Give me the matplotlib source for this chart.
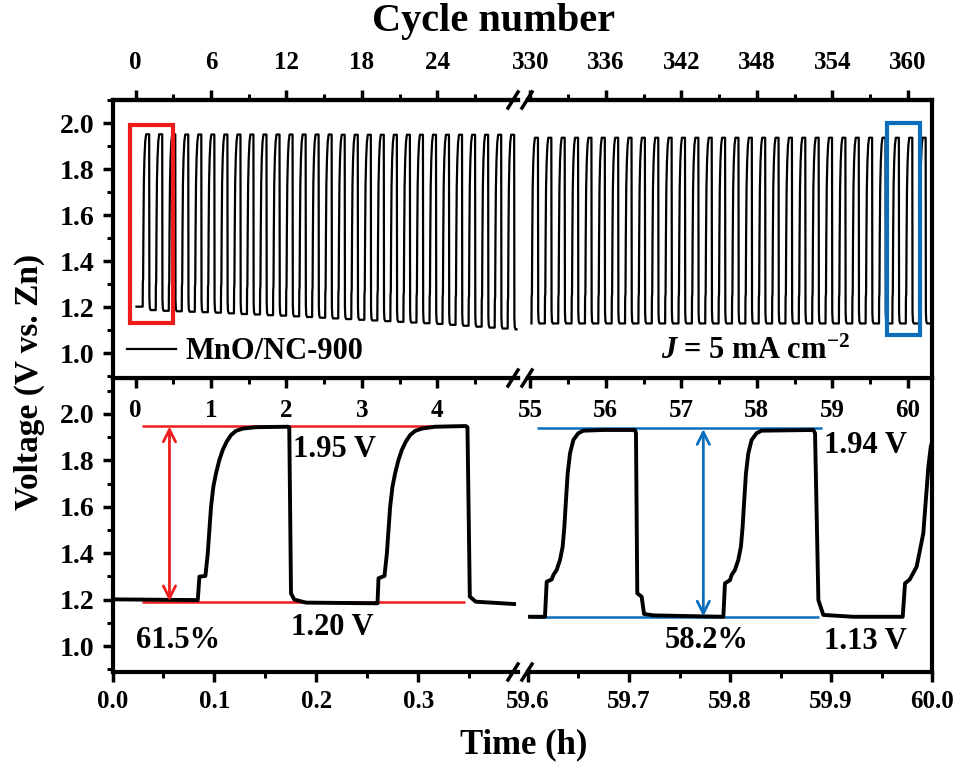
import matplotlib
matplotlib.use("Agg")
import matplotlib.pyplot as plt
from matplotlib.patches import Rectangle
from matplotlib.lines import Line2D
from matplotlib.ticker import MultipleLocator, FixedLocator, FormatStrFormatter

plt.rcParams['font.family'] = ['Liberation Serif', 'DejaVu Serif']
plt.rcParams['font.weight'] = 'bold'
plt.rcParams['mathtext.fontset'] = 'custom'
plt.rcParams['mathtext.rm'] = 'Liberation Serif:bold'
plt.rcParams['mathtext.it'] = 'Liberation Serif:italic:bold'
plt.rcParams['mathtext.bf'] = 'Liberation Serif:bold'

# ---------------- DATA ----------------
# Bottom-left: first 0.4 h (time in h, voltage in V)
bl_time = [0.0003, 0.0837, 0.0853, 0.0912, 0.0918, 0.0935, 0.0951, 0.0967, 0.0990, 0.1016,
           0.1049, 0.1082, 0.1121, 0.1163, 0.1212, 0.1278, 0.1409, 0.1719, 0.1735, 0.1752,
           0.1784, 0.1899, 0.2601, 0.2611, 0.2670, 0.2676, 0.2693, 0.2709, 0.2725, 0.2748,
           0.2774, 0.2807, 0.2840, 0.2879, 0.2921, 0.2970, 0.3036, 0.3167, 0.3467, 0.3484,
           0.3507, 0.3565, 0.3941]
bl_volt = [1.201, 1.198, 1.299, 1.302, 1.328, 1.399, 1.500, 1.600, 1.687, 1.744,
           1.802, 1.845, 1.881, 1.909, 1.927, 1.937, 1.943, 1.945, 1.943, 1.227,
           1.200, 1.187, 1.184, 1.292, 1.302, 1.328, 1.399, 1.500, 1.600, 1.687,
           1.744, 1.802, 1.845, 1.881, 1.909, 1.927, 1.937, 1.945, 1.948, 1.943,
           1.213, 1.191, 1.181]

# Bottom-right: last 0.4 h
br_time = [59.6020, 59.6168, 59.6185, 59.6235, 59.6251, 59.6284, 59.6317, 59.6343, 59.6360, 59.6376,
           59.6393, 59.6416, 59.6449, 59.6498, 59.6548, 59.6746, 59.7059, 59.7069, 59.7082, 59.7125,
           59.7149, 59.7241, 59.7934, 59.7950, 59.8000, 59.8016, 59.8049, 59.8082, 59.8108, 59.8125,
           59.8141, 59.8158, 59.8181, 59.8214, 59.8263, 59.8313, 59.8825, 59.8842, 59.8875, 59.8924,
           59.9221, 59.9710, 59.9733, 59.9780, 59.9848, 59.9914, 59.9964, 59.9988, 60.0013]
br_volt = [1.126, 1.126, 1.277, 1.287, 1.306, 1.328, 1.371, 1.428, 1.514, 1.629,
           1.744, 1.830, 1.888, 1.917, 1.928, 1.931, 1.931, 1.917, 1.227, 1.213,
           1.138, 1.132, 1.126, 1.270, 1.284, 1.306, 1.328, 1.371, 1.428, 1.514,
           1.629, 1.744, 1.830, 1.888, 1.917, 1.928, 1.931, 1.917, 1.198, 1.134,
           1.126, 1.126, 1.270, 1.287, 1.342, 1.486, 1.773, 1.859, 1.900]

# Top-left: cycles 0-30 (time of charge start, h; plateau voltages)
tl_rise_h = [0.095, 0.268, 0.441, 0.613, 0.786, 0.959, 1.132, 1.305, 1.477, 1.650,
             1.823, 1.996, 2.169, 2.341, 2.514, 2.687, 2.860, 3.033, 3.205, 3.378,
             3.551, 3.724, 3.897, 4.069, 4.242, 4.415, 4.588, 4.761, 4.933]
tl_low_V = [1.203, 1.188, 1.185, 1.183, 1.181, 1.179, 1.177, 1.174, 1.171, 1.169,
            1.166, 1.164, 1.161, 1.158, 1.155, 1.152, 1.149, 1.146, 1.143, 1.140,
            1.137, 1.134, 1.131, 1.128, 1.124, 1.120, 1.116, 1.112, 1.108, 1.104]
tl_high_V = [1.952, 1.952, 1.952, 1.951, 1.951, 1.951, 1.951, 1.951, 1.951, 1.951,
             1.951, 1.951, 1.951, 1.951, 1.951, 1.950, 1.950, 1.950, 1.950, 1.950,
             1.950, 1.950, 1.950, 1.950, 1.950, 1.950, 1.950, 1.950, 1.950]

# Top-right: cycles 330-362
tr_rise_h = [55.016, 55.193, 55.370, 55.547, 55.724, 55.901, 56.078, 56.255, 56.432, 56.609,
             56.786, 56.963, 57.140, 57.317, 57.494, 57.671, 57.848, 58.025, 58.202, 58.379,
             58.556, 58.733, 58.910, 59.087, 59.264, 59.441, 59.618, 59.795, 59.973, 60.150]
tr_low_V = [1.130] * 31
tr_high_V = [1.937] * 30

# tick labels
hour_ticks_left = [0, 1, 2, 3, 4]
hour_ticks_right = [55, 56, 57, 58, 59, 60]
cycle_ticks_left = [0, 6, 12, 18, 24]
cycle_ticks_right = [330, 336, 342, 348, 354, 360]
time_ticks_left = [0.0, 0.1, 0.2, 0.3]
time_ticks_right = [59.6, 59.7, 59.8, 59.9, 60.0]
volt_ticks = [1.0, 1.2, 1.4, 1.6, 1.8, 2.0]


def cycle_trace(rises, lows, highs, t_start, t_end):
    t = [t_start]
    v = [lows[0]]
    for k, r in enumerate(rises):
        lo, hi, nxt = lows[k], highs[k], lows[k + 1]
        s = hi - lo
        t += [r, r + 0.002, r + 0.006, r + 0.010, r + 0.016, r + 0.024, r + 0.034,
              r + 0.046, r + 0.086, r + 0.089, r + 0.094, r + 0.105]
        v += [lo, lo + 0.14 * s, lo + 0.16 * s, lo + 0.45 * s, lo + 0.73 * s, lo + 0.87 * s,
              lo + 0.96 * s, hi, hi, nxt + 0.05, nxt + 0.01, nxt]
    t.append(t_end)
    v.append(lows[-1])
    return t, v


# ---------------- FIGURE ----------------
W, H = 960, 762
fig = plt.figure(figsize=(W / 100, H / 100), dpi=100)


def ax_px(x0, y0, x1, y1, z):
    a = fig.add_axes([x0 / W, 1 - y1 / H, (x1 - x0) / W, (y1 - y0) / H])
    a.set_zorder(z)
    return a


XL0, XL1, XR0, XR1 = 112.5, 518, 528, 932
ax_tl = ax_px(XL0, 100, XL1, 378, 3)
ax_tr = ax_px(XR0, 100, XR1, 378, 3)
ax_bl = ax_px(XL0, 378, XL1, 672, 1)
ax_br = ax_px(XR0, 378, XR1, 672, 1)
for a in (ax_bl, ax_br):
    a.patch.set_alpha(0)

RED = '#ee1c1c'
BLUE = '#0a6ebd'
TICK_FS = 18
YTICK_FS = 20
ANN_FS = 22
SPINE_LW = 3.0

for a in (ax_tl, ax_tr, ax_bl, ax_br):
    for s in a.spines.values():
        s.set_linewidth(SPINE_LW)
    a.tick_params(which='major', length=7, width=2.5, labelsize=TICK_FS, direction='out')
    a.tick_params(which='minor', length=4, width=2.2, direction='out')
for a in (ax_tl, ax_bl):
    a.spines['right'].set_visible(False)
for a in (ax_tr, ax_br):
    a.spines['left'].set_visible(False)
    a.tick_params(axis='y', which='both', left=False, labelleft=False)

# top panels
ax_tl.set_xlim(-0.305, 5.07)
ax_tr.set_xlim(54.97, 60.32)
for a in (ax_tl, ax_tr):
    a.set_ylim(0.893, 2.101)
ax_bl.set_xlim(0.0, 0.398)
ax_br.set_xlim(59.6, 60.0)
for a in (ax_bl, ax_br):
    a.set_ylim(0.888, 2.155)

for a in (ax_tl, ax_bl):
    a.set_yticks(volt_ticks)
    a.yaxis.set_minor_locator(MultipleLocator(0.1))
    a.yaxis.set_major_formatter(FormatStrFormatter('%.1f'))
    a.tick_params(axis='y', which='major', pad=6, labelsize=YTICK_FS)

# top panels: hour ticks at bottom (labels fall inside lower panel)
ax_tl.set_xticks(hour_ticks_left)
ax_tl.xaxis.set_minor_locator(FixedLocator([0.5, 1.5, 2.5, 3.5, 4.5]))
ax_tr.set_xticks(hour_ticks_right)
ax_tr.xaxis.set_minor_locator(FixedLocator([55.5, 56.5, 57.5, 58.5, 59.5]))
for a in (ax_tl, ax_tr):
    a.tick_params(axis='x', which='major', pad=8)

# cycle number axis on top
for a, ct, cm in ((ax_tl, cycle_ticks_left, [3, 9, 15, 21, 27]),
                  (ax_tr, cycle_ticks_right, [333, 339, 345, 351, 357])):
    sec = a.secondary_xaxis('top', functions=(lambda t: 6 * t, lambda c: c / 6))
    sec.set_xticks(ct)
    sec.xaxis.set_minor_locator(FixedLocator(cm))
    sec.spines['top'].set_linewidth(SPINE_LW)
    sec.tick_params(which='major', length=7, width=2.5, labelsize=TICK_FS, direction='out', pad=12)
    sec.tick_params(which='minor', length=4, width=2.2, direction='out')

# bottom panels: time axis
ax_bl.set_xticks(time_ticks_left)
ax_bl.xaxis.set_minor_locator(FixedLocator([0.05, 0.15, 0.25, 0.35]))
ax_br.set_xticks(time_ticks_right)
ax_br.xaxis.set_minor_locator(FixedLocator([59.65, 59.75, 59.85, 59.95]))
for a in (ax_bl, ax_br):
    a.xaxis.set_major_formatter(FormatStrFormatter('%.1f'))
    a.tick_params(axis='x', which='major', pad=6)

# ---------------- TRACES ----------------
t1, v1 = cycle_trace(tl_rise_h, tl_low_V, tl_high_V, 0.013, 5.05)
line_tl, = ax_tl.plot(t1, v1, color='black', lw=1.6, label='MnO/NC-900')
t2, v2 = cycle_trace(tr_rise_h, tr_low_V, tr_high_V, tr_rise_h[0], 60.33)
ax_tr.plot(t2, v2, color='black', lw=1.6)
ax_bl.plot(bl_time, bl_volt, color='black', lw=2.8, zorder=3)
ax_br.plot(br_time, br_volt, color='black', lw=2.8, zorder=3)

# highlight boxes
ax_tl.add_patch(Rectangle((-0.075, 1.130), 0.569, 0.863, fill=False, ec=RED, lw=3, zorder=4))
ax_tr.add_patch(Rectangle((59.724, 1.080), 0.442, 0.920, fill=False, ec=BLUE, lw=3, zorder=4))

# legend / labels in top panels
ax_tl.legend(handles=[line_tl], loc='center left', bbox_to_anchor=(0.036, 0.094),
             frameon=False, fontsize=ANN_FS, handlelength=1.6, handletextpad=0.3,
             borderpad=0, borderaxespad=0)
ax_tr.text(0.562, 0.094, r'$J$ = 5 mA cm$^{-2}$', transform=ax_tr.transAxes,
           ha='center', va='center', fontsize=ANN_FS)

# bottom-left annotations
ax_bl.hlines(1.948, 0.0294, 0.348, color=RED, lw=1.8, zorder=2)
ax_bl.hlines(1.191, 0.0294, 0.346, color=RED, lw=1.8, zorder=2)
ax_bl.annotate('', xy=(0.0559, 1.946), xytext=(0.0559, 1.193),
               arrowprops=dict(arrowstyle='<->', color=RED, lw=2, mutation_scale=22,
                               shrinkA=0, shrinkB=0))
ax_bl.text(0.2176, 1.849, '1.95 V', ha='center', va='center', fontsize=ANN_FS)
ax_bl.text(0.2157, 1.078, '1.20 V', ha='center', va='center', fontsize=ANN_FS)
ax_bl.text(0.0647, 1.022, '61.5%', ha='center', va='center', fontsize=ANN_FS)

# bottom-right annotations
ax_br.hlines(1.938, 59.6086, 59.8908, color=BLUE, lw=1.8, zorder=2)
ax_br.hlines(1.124, 59.6020, 59.8880, color=BLUE, lw=1.8, zorder=2)
ax_br.annotate('', xy=(59.7736, 1.935), xytext=(59.7736, 1.127),
               arrowprops=dict(arrowstyle='<->', color=BLUE, lw=2, mutation_scale=22,
                               shrinkA=0, shrinkB=0))
ax_br.text(59.9337, 1.866, '1.94 V', ha='center', va='center', fontsize=ANN_FS)
ax_br.text(59.7772, 1.022, '58.2%', ha='center', va='center', fontsize=ANN_FS)
ax_br.text(59.9337, 1.019, '1.13 V', ha='center', va='center', fontsize=ANN_FS)

# axis titles
fig.text(493 / W, 1 - 22 / H, 'Cycle number', ha='center', va='center', fontsize=29)
fig.text(524 / W, 1 - 745 / H, 'Time (h)', ha='center', va='center', fontsize=25)
fig.text(29 / W, 1 - 382 / H, 'Voltage (V vs. Zn)', ha='center', va='center',
         fontsize=24, rotation=90)

# break marks
for yb in (100, 378, 672):
    for xc in (513, 527):
        fig.add_artist(Line2D([(xc - 5) / W, (xc + 5) / W], [1 - (yb + 8) / H, 1 - (yb - 8) / H],
                              color='black', lw=2.5, zorder=10))

fig.savefig('out.png', dpi=100)
